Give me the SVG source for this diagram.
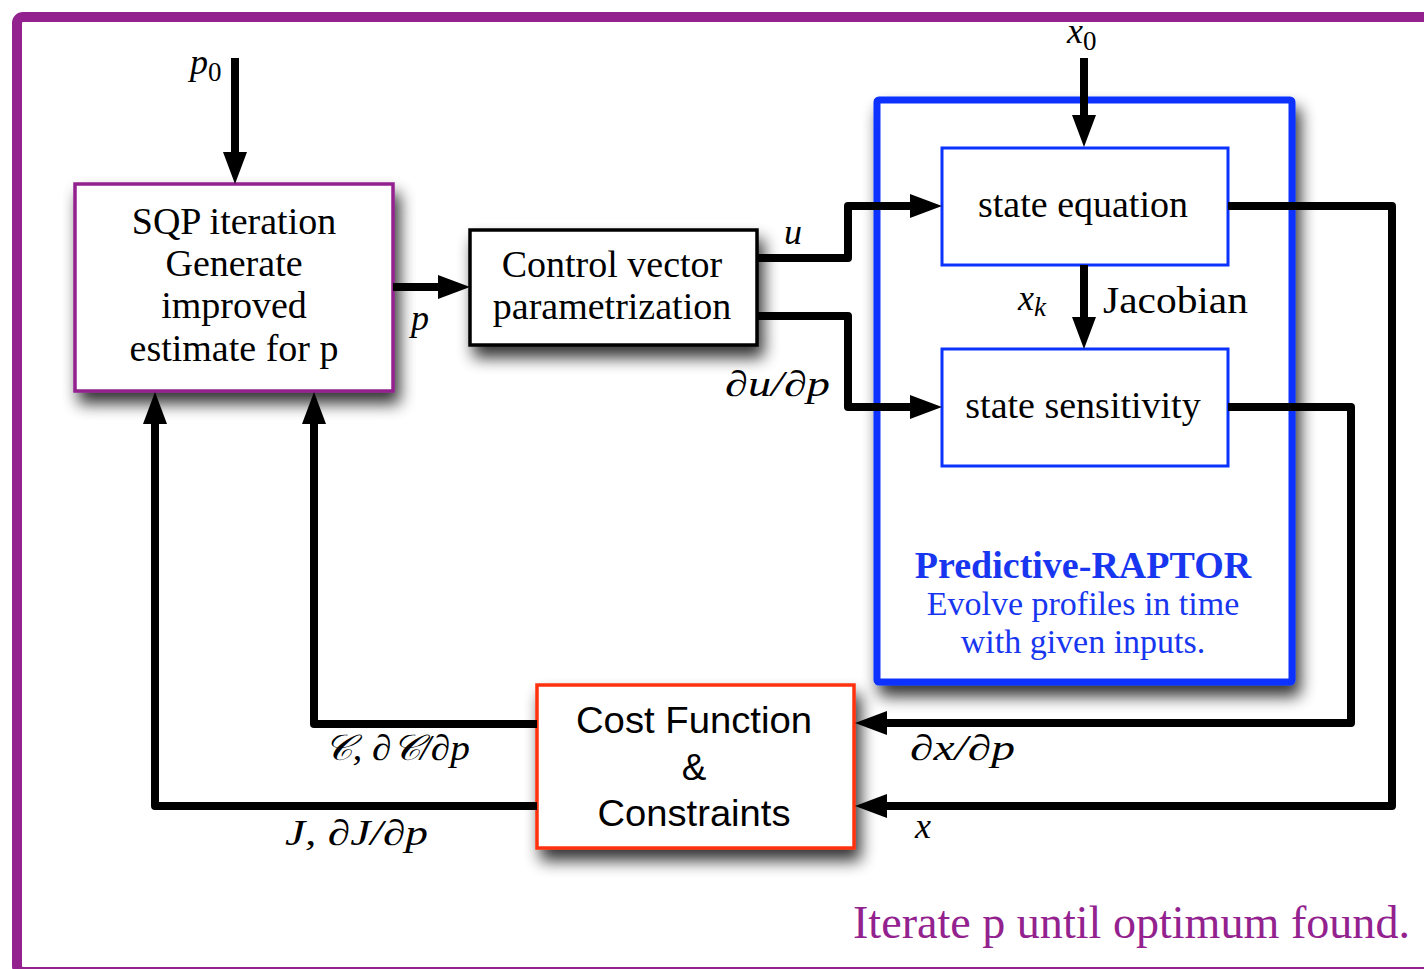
<svg xmlns="http://www.w3.org/2000/svg" width="1424" height="969" viewBox="0 0 1424 969">
  <style>
    .serif { font-family: "Liberation Serif", "Times New Roman", serif; font-size: 38px; fill: #000; text-anchor: middle; }
    .sans { font-family: "Liberation Sans", Arial, sans-serif; font-size: 37px; fill: #000; text-anchor: middle; }
    .math { font-family: "Liberation Serif", "DejaVu Serif", serif; font-size: 36px; font-style: italic; fill: #000; }
    .up { font-style: normal; }
    .wire { fill: none; stroke: #000; stroke-width: 8; stroke-linejoin: round; }
    .arrow { marker-end: url(#head); }
    .blueTxt { font-family: "Liberation Serif", "Times New Roman", serif; fill: #1836f0; text-anchor: middle; }
  </style>
  <defs>
    <filter id="shadow" x="-20%" y="-20%" width="150%" height="160%">
      <feGaussianBlur in="SourceAlpha" stdDeviation="8"/>
      <feOffset dx="5" dy="11" result="b"/>
      <feComponentTransfer><feFuncA type="linear" slope="0.8"/></feComponentTransfer>
      <feMerge><feMergeNode/><feMergeNode in="SourceGraphic"/></feMerge>
    </filter>
    <marker id="head" markerUnits="userSpaceOnUse" markerWidth="32" markerHeight="24" refX="8" refY="12" orient="auto">
      <path d="M0,0 L32,12 L0,24 z" fill="#000"/>
    </marker>
  </defs>

  <rect x="0" y="0" width="1424" height="969" fill="#fff"/>

  <!-- outer frame -->
  <rect id="frame" x="17" y="17" width="1430" height="955" rx="6" fill="#fff" stroke="#93228f" stroke-width="10"/>

  <!-- optimizer -->
  <g id="sqp">
    <rect x="75" y="184" width="318" height="207" fill="#fff" stroke="#93228f" stroke-width="3.5" filter="url(#shadow)"/>
    <text class="serif" x="234" y="234">SQP iteration</text>
    <text class="serif" x="234" y="276">Generate</text>
    <text class="serif" x="234" y="318">improved</text>
    <text class="serif" x="234" y="361">estimate for p</text>
  </g>

  <g id="cvp">
    <rect x="470" y="230" width="287" height="115" fill="#fff" stroke="#000" stroke-width="3.5" filter="url(#shadow)"/>
    <text class="serif" x="612" y="277">Control vector</text>
    <text class="serif" x="612" y="319">parametrization</text>
  </g>

  <!-- simulator block -->
  <g id="raptor">
    <rect x="877" y="100" width="415" height="582" rx="2" fill="#fff" stroke="#0a33ff" stroke-width="7" filter="url(#shadow)"/>
    <text class="blueTxt" x="1083" y="578" font-size="38" font-weight="bold">Predictive-RAPTOR</text>
    <text class="blueTxt" x="1083" y="615" font-size="34">Evolve profiles in time</text>
    <text class="blueTxt" x="1083" y="653" font-size="34">with given inputs.</text>
  </g>

  <g id="stateEq">
    <rect x="942" y="148" width="286" height="117" fill="#fff" stroke="#0a33ff" stroke-width="3"/>
    <text class="serif" x="1083" y="217">state equation</text>
  </g>

  <g id="stateSens">
    <rect x="942" y="349" width="286" height="117" fill="#fff" stroke="#0a33ff" stroke-width="3"/>
    <text class="serif" x="1083" y="418">state sensitivity</text>
  </g>

  <g id="cost">
    <rect x="537" y="685" width="317" height="163" fill="#fff" stroke="#ff3311" stroke-width="3.5" filter="url(#shadow)"/>
    <text class="sans" x="694" y="733" textLength="236" lengthAdjust="spacingAndGlyphs">Cost Function</text>
    <text class="sans" x="694" y="780">&amp;</text>
    <text class="sans" x="694" y="826" textLength="193" lengthAdjust="spacingAndGlyphs">Constraints</text>
  </g>

  <!-- connectors -->
  <g id="connectors">
    <path class="wire arrow" d="M235,58 V160"/>
    <path class="wire arrow" d="M1084,58 V123"/>
    <path class="wire arrow" d="M393,287 H446"/>
    <path class="wire arrow" d="M757,258 H848 V206 H918"/>
    <path class="wire arrow" d="M757,316 H848 V407 H918"/>
    <path class="wire arrow" d="M1084,265 V325"/>
    <path class="wire arrow" d="M1228,206 H1392 V806 H879"/>
    <path class="wire arrow" d="M1228,407 H1351 V723 H879"/>
    <path class="wire arrow" d="M537,724 H314 V416"/>
    <path class="wire arrow" d="M537,806 H155 V416"/>
  </g>

  <!-- connector labels -->
  <g id="labels">
    <text class="math" x="190" y="74">p<tspan class="up" font-size="27" dy="7">0</tspan></text>
    <text class="math" x="1067" y="43">x<tspan class="up" font-size="27" dy="7">0</tspan></text>
    <text class="math" x="411" y="330">p</text>
    <text class="math" x="784" y="244">u</text>
    <text class="math" x="725" y="396" textLength="105" lengthAdjust="spacingAndGlyphs">∂u/∂p</text>
    <text class="math" x="1018" y="310">x<tspan font-size="27" dy="6">k</tspan></text>
    <text class="serif" x="1103" y="313" style="text-anchor:start" textLength="145" lengthAdjust="spacingAndGlyphs">Jacobian</text>
    <text class="math" x="910" y="760" textLength="105" lengthAdjust="spacingAndGlyphs">∂x/∂p</text>
    <text class="math" x="915" y="838">x</text>
    <text class="math" x="324" y="760" textLength="146" lengthAdjust="spacingAndGlyphs">𝒞, ∂𝒞/∂p</text>
    <text class="math" x="285" y="845" textLength="143" lengthAdjust="spacingAndGlyphs">J, ∂J/∂p</text>
  </g>

  <text x="1410" y="938" font-family="'Liberation Serif', 'Times New Roman', serif" font-size="46" fill="#93228f" text-anchor="end" textLength="557" lengthAdjust="spacingAndGlyphs">Iterate p until optimum found.</text>
</svg>
